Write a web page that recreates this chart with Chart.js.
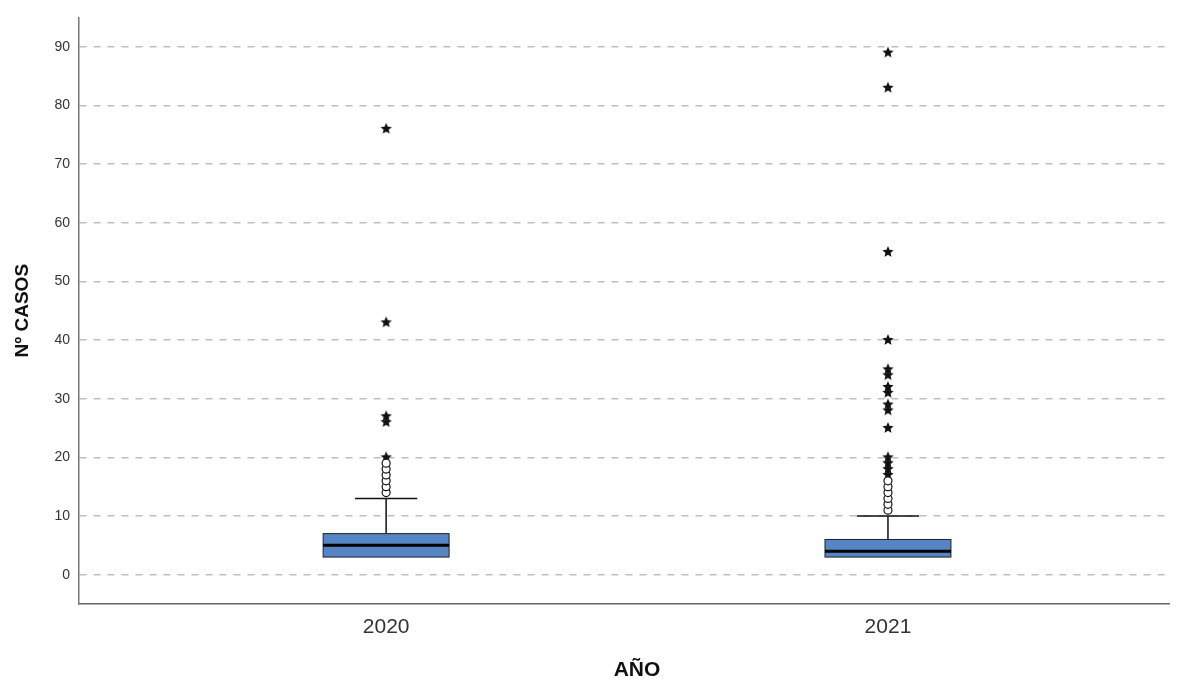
<!DOCTYPE html>
<html>
<head>
<meta charset="utf-8">
<script src="https://cdn.jsdelivr.net/npm/chart.js@4"></script>
<style>
  html, body { margin: 0; padding: 0; background: #fff; }
  #wrap { width: 1184px; height: 682px; }
</style>
</head>
<body>
<div id="wrap"><canvas id="chart"></canvas></div>
<script>
// Box plot summary per year
const years = [2020, 2021];
const q1 = [3, 3];
const medians = [5, 4];
const q3 = [7, 6];
const whiskerLow = [3, 3];
const whiskerHigh = [13, 10];

// Outliers (circles) and extremes (stars)
const circles2020 = [14, 15, 16, 17, 18, 19];
const stars2020 = [20, 26, 27, 43, 76];
const circles2021 = [11, 12, 13, 14, 15, 16];
const stars2021 = [17, 18, 19, 20, 25, 28, 29, 31, 32, 34, 35, 40, 55, 83, 89];

const yTicks = [0, 10, 20, 30, 40, 50, 60, 70, 80, 90];
const xTitle = 'AÑO';

// filled star marker
function makeStar(r) {
    const c = document.createElement('canvas');
    c.width = c.height = r * 2 + 2;
    const ctx = c.getContext('2d');
    ctx.fillStyle = '#111';
    ctx.beginPath();
    for (let i = 0; i < 10; i++) {
        const rad = i % 2 === 0 ? r : r * 0.45;
        const a = -Math.PI / 2 + i * Math.PI / 5;
        const px = r + 1 + rad * Math.cos(a), py = r + 1 + rad * Math.sin(a);
        if (i === 0) ctx.moveTo(px, py); else ctx.lineTo(px, py);
    }
    ctx.closePath();
    ctx.fill();
    return c;
}
const star = makeStar(6);

const toPts = (x, arr) => arr.map(v => ({ x, y: v }));

const boxPlugin = {
    id: 'boxes',
    beforeDatasetsDraw(chart) {
        const { ctx, scales: { x, y } } = chart;
        ctx.save();
        years.forEach((yr, i) => {
            const cx = x.getPixelForValue(yr);
            const x0 = x.getPixelForValue(yr - 0.1255);
            const x1 = x.getPixelForValue(yr + 0.1255);
            const c0 = x.getPixelForValue(yr - 0.062);
            const c1 = x.getPixelForValue(yr + 0.062);
            // whiskers
            ctx.strokeStyle = '#111';
            ctx.lineWidth = 1.5;
            ctx.beginPath();
            ctx.moveTo(cx, y.getPixelForValue(q3[i]));
            ctx.lineTo(cx, y.getPixelForValue(whiskerHigh[i]));
            ctx.moveTo(c0, y.getPixelForValue(whiskerHigh[i]));
            ctx.lineTo(c1, y.getPixelForValue(whiskerHigh[i]));
            ctx.moveTo(cx, y.getPixelForValue(q1[i]));
            ctx.lineTo(cx, y.getPixelForValue(whiskerLow[i]));
            ctx.stroke();
            // box
            const top = y.getPixelForValue(q3[i]);
            const bot = y.getPixelForValue(q1[i]);
            ctx.fillStyle = '#5585c5';
            ctx.fillRect(x0, top, x1 - x0, bot - top);
            ctx.strokeStyle = '#222';
            ctx.lineWidth = 1;
            ctx.strokeRect(x0, top, x1 - x0, bot - top);
            // median
            ctx.lineWidth = 3;
            ctx.strokeStyle = '#000';
            ctx.beginPath();
            const m = y.getPixelForValue(medians[i]);
            ctx.moveTo(x0, m);
            ctx.lineTo(x1, m);
            ctx.stroke();
        });
        ctx.restore();
    },
    afterDraw(chart) {
        // x axis title, sits a bit right of the plot centre in the original
        const { ctx, chartArea } = chart;
        ctx.save();
        ctx.font = 'bold 21px "Liberation Sans"';
        ctx.fillStyle = '#111';
        ctx.textAlign = 'center';
        ctx.textBaseline = 'middle';
        ctx.fillText(xTitle, (chartArea.left + chartArea.right) / 2 + 13, chart.height - 12);
        ctx.restore();
    }
};

new Chart(document.getElementById('chart'), {
    type: 'scatter',
    data: {
        datasets: [
            { data: toPts(2020, circles2020), pointStyle: 'circle', radius: 4, backgroundColor: '#fff', borderColor: '#111', borderWidth: 1.2 },
            { data: toPts(2021, circles2021), pointStyle: 'circle', radius: 4, backgroundColor: '#fff', borderColor: '#111', borderWidth: 1.2 },
            { data: toPts(2020, stars2020), pointStyle: star },
            { data: toPts(2021, stars2021), pointStyle: star }
        ]
    },
    options: {
        responsive: true,
        maintainAspectRatio: false,
        animation: false,
        layout: { padding: { top: 15, right: 15, left: 0, bottom: 0 } },
        plugins: { legend: { display: false }, tooltip: { enabled: false } },
        scales: {
            x: {
                type: 'linear',
                min: 2019.388,
                max: 2021.56,
                afterBuildTicks: s => { s.ticks = years.map(v => ({ value: v })); },
                afterFit: s => { s.height = 78; },
                grid: { display: false },
                border: { display: true, color: '#666', width: 1.5 },
                ticks: {
                    callback: v => String(v),
                    color: '#333',
                    padding: 3,
                    maxRotation: 0,
                    font: { family: 'Liberation Sans', size: 21 }
                }
            },
            y: {
                min: -5,
                max: 95,
                afterBuildTicks: s => { s.ticks = yTicks.map(v => ({ value: v })); },
                afterFit: s => { s.width = 79; },
                grid: {
                    color: '#bdbdbd',
                    lineWidth: 1.5,
                    drawTicks: false
                },
                border: { display: true, color: '#777', width: 1.5, dash: [7, 7] },
                ticks: {
                    color: '#333',
                    padding: 9,
                    font: { family: 'Liberation Sans', size: 14 }
                },
                title: {
                    display: true,
                    text: 'Nº CASOS',
                    color: '#111',
                    padding: { top: 11, bottom: 0 },
                    font: { family: 'Liberation Sans', size: 19, weight: 'bold' }
                }
            }
        }
    },
    plugins: [boxPlugin]
});
</script>
</body>
</html>
